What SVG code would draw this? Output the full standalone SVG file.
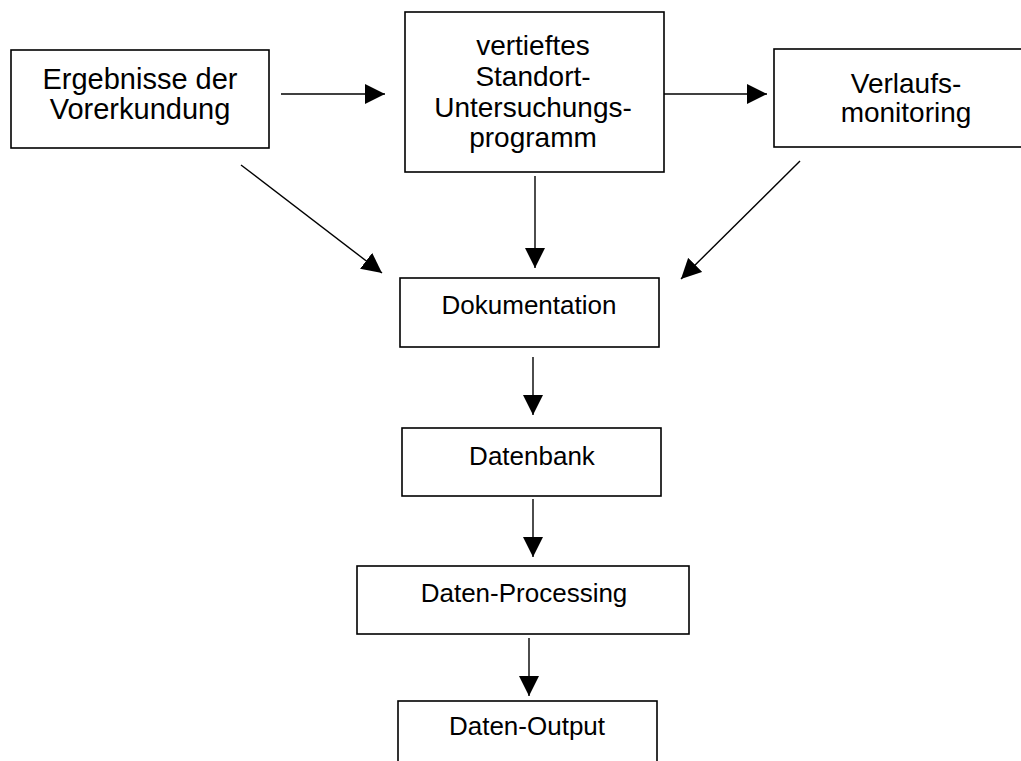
<svg xmlns="http://www.w3.org/2000/svg" width="1021" height="761" viewBox="0 0 1021 761">
<style>
.box{fill:#fff;stroke:#000;stroke-width:1.6}
.t1{font-family:"Liberation Sans",Arial,sans-serif;font-size:28px;fill:#000;text-anchor:middle}
.t0{font-family:"Liberation Sans",Arial,sans-serif;font-size:29px;fill:#000;text-anchor:middle}
.t2{font-family:"Liberation Sans",Arial,sans-serif;font-size:26px;fill:#000;text-anchor:middle}
.c{stroke:#000;stroke-width:1.4;fill:none;marker-end:url(#ah)}
</style>
<defs>
<marker id="ah" markerUnits="userSpaceOnUse" markerWidth="20" markerHeight="20" refX="20" refY="10" orient="auto" viewBox="0 0 20 20">
<path d="M0,0 L20,10 L0,20 Z" fill="#000"/>
</marker>
</defs>
<rect width="1021" height="761" fill="#fff"/>
<g id="n-ergebnisse">
<rect class="box" x="11" y="50" width="258" height="98"/>
<text class="t0" x="140" y="89">Ergebnisse der</text>
<text class="t0" x="140" y="118.5">Vorerkundung</text>
</g>
<g id="n-vertieftes">
<rect class="box" x="405" y="12" width="259" height="160"/>
<text class="t1" x="533" y="55">vertieftes</text>
<text class="t1" x="533" y="86">Standort-</text>
<text class="t1" x="533" y="116.5">Untersuchungs-</text>
<text class="t1" x="533" y="147">programm</text>
</g>
<g id="n-verlauf">
<rect class="box" x="774" y="49" width="264" height="98"/>
<text class="t1" x="906" y="92.5">Verlaufs-</text>
<text class="t1" x="906" y="121.5">monitoring</text>
</g>
<g id="n-doku">
<rect class="box" x="400" y="278" width="259" height="69"/>
<text class="t2" x="529" y="314">Dokumentation</text>
</g>
<g id="n-datenbank">
<rect class="box" x="402" y="428" width="259" height="68"/>
<text class="t2" x="532" y="465">Datenbank</text>
</g>
<g id="n-processing">
<rect class="box" x="357" y="566" width="332" height="68"/>
<text class="t2" x="524" y="602">Daten-Processing</text>
</g>
<g id="n-output">
<rect class="box" x="398" y="701" width="259" height="90"/>
<text class="t2" x="527" y="735">Daten-Output</text>
</g>
<g id="connectors">
<line class="c" x1="281" y1="94" x2="385" y2="94"/>
<line class="c" x1="664" y1="94" x2="767" y2="94"/>
<line class="c" x1="241" y1="165" x2="382" y2="273"/>
<line class="c" x1="535" y1="176" x2="535" y2="268"/>
<line class="c" x1="800" y1="161" x2="681" y2="279"/>
<line class="c" x1="533" y1="357" x2="533" y2="415"/>
<line class="c" x1="533" y1="499" x2="533" y2="557"/>
<line class="c" x1="529" y1="638" x2="529" y2="696"/>
</g>
</svg>
